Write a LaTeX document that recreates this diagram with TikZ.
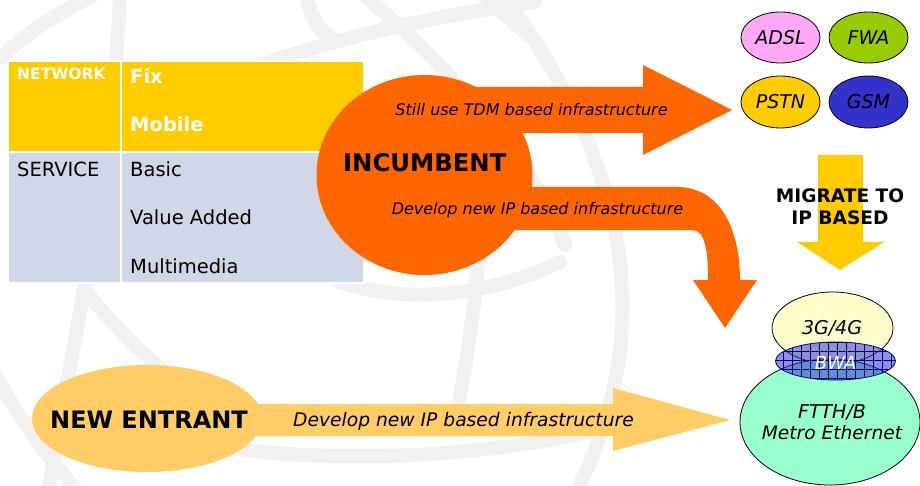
\documentclass[tikz,border=0pt]{standalone}
\usepackage{fontspec}
\setmainfont{DejaVu Sans}
\usetikzlibrary{shapes.geometric}

\definecolor{globegray}{RGB}{242,241,239}
\definecolor{tyellow}{RGB}{255,204,0}
\definecolor{tgray}{RGB}{208,216,232}
\definecolor{incorange}{RGB}{255,102,0}
\definecolor{neworange}{RGB}{255,204,102}
\definecolor{adslpink}{RGB}{255,168,245}
\definecolor{fwagreen}{RGB}{153,204,0}
\definecolor{gsmblue}{RGB}{51,51,204}
\definecolor{gfourg}{RGB}{255,255,204}
\definecolor{ftthgreen}{RGB}{153,255,204}
\definecolor{bwanavy}{RGB}{0,0,120}

\newcommand\setfs[1]{\fontsize{#1}{#1}\selectfont}

\begin{document}
\begin{tikzpicture}[x=1pt,y=-1pt,
  globe/.style={draw=globegray, line width=14pt, line cap=round},
  cell/.style={rectangle, draw=white, line width=2pt, inner sep=0pt, anchor=north west},
  ell/.style={ellipse, draw=black, line width=0.8pt, inner sep=0pt},
  lbl/.style={inner sep=0pt, anchor=base},
  lblw/.style={inner sep=0pt, anchor=base west},
]
\useasboundingbox (0,0) rectangle (920,486);
\fill[white] (0,0) rectangle (920,486);

% faint globe in the background
\draw[globe] (0,58) .. controls (30,30) and (60,12) .. (100,-8);
\draw[globe] (120,-8) .. controls (115,150) and (80,300) .. (48,494);
\draw[globe] (85,290) .. controls (120,335) and (160,370) .. (200,400);
\draw[globe] (-5,375) .. controls (20,420) and (50,460) .. (80,494);
\draw[globe] (180,440) .. controls (300,465) and (480,462) .. (615,425);
\draw[globe] (500,-8) .. controls (620,150) and (665,320) .. (575,494);
\draw[globe] (360,-8) .. controls (430,50) and (530,150) .. (565,245);
\draw[globe] (305,-8) .. controls (312,20) and (318,30) .. (330,36);
\draw[globe] (262,64) .. controls (350,35) and (440,15) .. (535,2);
\draw[globe] (480,-8) .. controls (500,10) and (515,25) .. (535,40);
\draw[globe] (340,282) .. controls (400,302) and (480,300) .. (560,262);
\draw[globe] (480,243) .. controls (475,300) and (468,360) .. (455,420);

% network / service table
\node[cell, fill=tyellow, minimum width=113pt, minimum height=91pt] (c11) at (7,60) {};
\node[cell, fill=tyellow, minimum width=243pt, minimum height=91pt] (c12) at (120,60) {};
\node[cell, fill=tgray, minimum width=113pt, minimum height=131pt] (c21) at (7,151) {};
\node[cell, fill=tgray, minimum width=243pt, minimum height=131pt] (c22) at (120,151) {};

\node[lblw, text=white, font=\setfs{15.5}\bfseries] (network) at (17,80) {NETWORK};
\node[lblw, text=white, font=\setfs{19.5}\bfseries] (fix) at (130,84) {Fix};
\node[lblw, text=white, font=\setfs{19.5}\bfseries] (mobile) at (130,132) {Mobile};
\node[lblw, font=\setfs{19.5}] (service) at (17,177) {SERVICE};
\node[lblw, font=\setfs{19.5}] (basic) at (130,177) {Basic};
\node[lblw, font=\setfs{19.5}] (value) at (130,225) {Value Added};
\node[lblw, font=\setfs{19.5}] (multi) at (130,273) {Multimedia};

% incumbent with its two block arrows
\fill[incorange] (424,87) -- (643,87) -- (643,65) -- (732,110) -- (643,155) -- (643,133) -- (424,133) -- cycle;
\fill[incorange] (424,187) -- (677,187) .. controls (722,187) and (740,232) .. (740,280)
  -- (757,280) -- (725,328) -- (693,280) -- (708,280)
  .. controls (708,250) and (705,230) .. (692,230) -- (424,230) -- cycle;
\node[ellipse, fill=incorange, inner sep=0pt, minimum width=216pt, minimum height=200pt] (inc) at (424.5,175) {};
\node[lblw, font=\setfs{24.3}\bfseries] (inctext) at (343,171.5) {INCUMBENT};
\node[lbl, font=\setfs{16}\itshape] (tdm) at (531.5,116) {Still use TDM based infrastructure};
\node[lbl, font=\setfs{16}\itshape] (ipinc) at (537.5,215) {Develop new IP based infrastructure};

% legacy networks
\node[ell, fill=adslpink, minimum width=79pt, minimum height=51pt, font=\setfs{19}\itshape] (adsl) at (780.5,37.5) {ADSL};
\node[ell, fill=fwagreen, minimum width=79pt, minimum height=51pt, font=\setfs{19}\itshape] (fwa) at (868.5,37.5) {FWA};
\node[ell, fill=tyellow, minimum width=79pt, minimum height=52pt, font=\setfs{19}\itshape] (pstn) at (780.5,102) {PSTN};
\node[ell, fill=gsmblue, minimum width=79pt, minimum height=52pt, font=\setfs{19}\itshape] (gsm) at (868.5,102) {GSM};

% migration arrow
\fill[tyellow] (818,155) -- (863,155) -- (863,242) -- (884,242) -- (840,270) -- (797,242) -- (818,242) -- cycle;
\node[lbl, font=\setfs{18.6}\bfseries] (migrate) at (840,202.5) {MIGRATE TO};
\node[lbl, font=\setfs{18.6}\bfseries] (ipbased) at (840,225) {IP BASED};

% IP based networks
\node[ell, fill=gfourg, minimum width=121pt, minimum height=72pt] (g4) at (832.5,328) {};
\node[ell, fill=ftthgreen, minimum width=180pt, minimum height=126pt] (ftth) at (830,422) {};
\begin{scope}
  \clip (835.5,361) ellipse [x radius=60, y radius=19];
  \fill[gsmblue, opacity=0.55] (770,338) rectangle (900,386);
  \draw[bwanavy, line width=0.6pt, step=9pt] (770,338) grid (900,386);
\end{scope}
\node[ellipse, draw=bwanavy, line width=0.8pt, inner sep=0pt, minimum width=120pt, minimum height=38pt] (bwa) at (835.5,361) {};
\node[lbl, font=\setfs{19}\itshape] (g4text) at (832,334.7) {3G/4G};
\node[lbl, text=white, font=\setfs{18}\itshape] (bwatext) at (835.7,369) {BWA};
\node[lbl, font=\setfs{19}\itshape] (ftthtext) at (832,418) {FTTH/B};
\node[lbl, font=\setfs{18.6}\itshape] (metro) at (832,439) {Metro Ethernet};

% new entrant
\fill[neworange] (147,404) -- (613,404) -- (613,388) -- (730,420) -- (613,451) -- (613,436) -- (147,436) -- cycle;
\node[ellipse, fill=neworange, inner sep=0pt, minimum width=230pt, minimum height=107pt] (newent) at (147,418.5) {};
\node[lbl, font=\setfs{24}\bfseries] (newtext) at (149,428) {NEW ENTRANT};
\node[lbl, font=\setfs{18.7}\itshape] (ipnew) at (463.5,426) {Develop new IP based infrastructure};
\end{tikzpicture}
\end{document}
